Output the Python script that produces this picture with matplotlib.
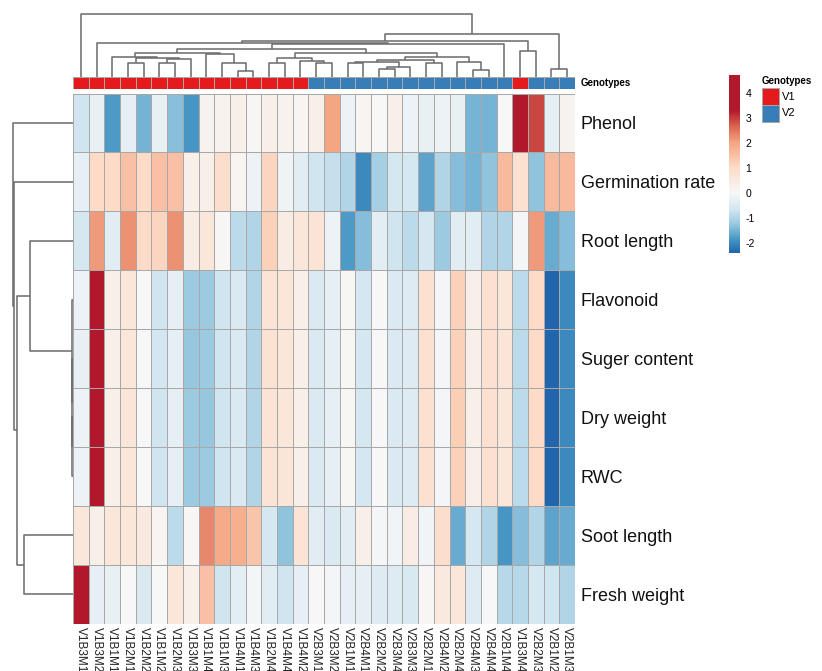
import numpy as np
import matplotlib
matplotlib.use('Agg')
import matplotlib.pyplot as plt
from matplotlib.colors import LinearSegmentedColormap, ListedColormap, Normalize
from matplotlib.patches import Rectangle

plt.rcParams['font.family'] = ['Liberation Sans', 'DejaVu Sans']
plt.rcParams['axes.unicode_minus'] = False

# column order as shown (after clustering)
samples = ['V1B3M1', 'V1B3M2', 'V1B1M1', 'V1B2M1', 'V1B2M2', 'V1B1M2', 'V1B2M3', 'V1B3M3',
           'V1B1M4', 'V1B1M3', 'V1B4M1', 'V1B4M3', 'V1B2M4', 'V1B4M4', 'V1B4M2', 'V2B3M1',
           'V2B3M2', 'V2B1M1', 'V2B4M1', 'V2B2M2', 'V2B3M4', 'V2B3M3', 'V2B2M1', 'V2B4M2',
           'V2B2M4', 'V2B4M3', 'V2B4M4', 'V2B1M4', 'V1B3M4', 'V2B2M3', 'V2B1M2', 'V2B1M3']
genotypes = [s[:2] for s in samples]
traits = ['Phenol', 'Germination rate', 'Root length', 'Flavonoid', 'Suger content',
          'Dry weight', 'RWC', 'Soot length', 'Fresh weight']

phenol = [-0.7, -0.25, -1.8, -0.3, -1.5, -0.25, -1.35, -1.85, 0.2, 0.2, 0.3, 0.05, 0.3, 0.2, 0.1, 0.3,
          2.0, -0.2, 0.1, 0.0, 0.3, -0.2, -0.25, -0.2, -0.25, -1.5, -1.5, 0.0, 4.7, 2.9, -0.3, 0.2]
germination = [-0.3, 1.0, 1.0, 1.5, 1.0, 1.5, 1.5, 0.3, 0.3, 0.9, 0.1, -0.2, 1.1, -0.15, -0.4, -0.7,
               -0.8, -1.0, -2.0, -1.1, -0.6, -0.6, -1.7, -1.0, -1.4, -1.5, -1.3, 1.6, 0.8, -1.3, 1.6, 1.6]
root_length = [-0.6, 2.1, -0.4, 2.2, 1.0, 1.1, 2.2, 0.4, 0.6, 0.05, -0.9, -1.0, 1.2, 0.4, 0.6, 0.7,
               -0.2, -1.8, -1.4, -0.35, -0.7, -0.9, -0.6, -1.2, -0.4, -0.4, -1.0, -1.0, -0.05, 2.1, -1.6, -1.4]
flavonoid = [-0.2, 4.5, 0.3, 0.6, 0.0, -0.7, -0.3, -1.2, -1.2, -0.7, -0.5, -1.0, 0.7, 0.6, 0.3, -0.5,
             -0.3, 0.05, -0.6, 0.0, -0.5, -0.45, 0.8, -0.05, 1.2, 0.3, 0.8, 0.6, -0.9, 1.0, -2.4, -2.0]
suger = [-0.25, 4.5, 0.3, 0.6, 0.0, -0.65, -0.3, -1.25, -1.2, -0.7, -0.5, -1.0, 0.75, 0.6, 0.3, -0.5,
         -0.3, 0.05, -0.6, 0.0, -0.5, -0.45, 0.8, -0.05, 1.2, 0.3, 0.8, 0.65, -0.9, 1.0, -2.4, -2.0]
dry_weight = [-0.2, 4.45, 0.3, 0.65, 0.0, -0.7, -0.3, -1.2, -1.25, -0.7, -0.5, -1.0, 0.7, 0.6, 0.3, -0.5,
              -0.3, 0.05, -0.6, 0.0, -0.5, -0.45, 0.8, -0.05, 1.25, 0.3, 0.8, 0.6, -0.9, 1.0, -2.4, -2.0]
rwc = [-0.2, 4.5, 0.3, 0.6, 0.0, -0.7, -0.3, -1.2, -1.2, -0.7, -0.5, -1.0, 0.7, 0.65, 0.3, -0.5,
       -0.3, 0.05, -0.6, 0.0, -0.5, -0.45, 0.8, -0.05, 1.2, 0.3, 0.8, 0.6, -0.9, 1.0, -2.4, -2.0]
soot_length = [0.6, 0.3, 0.6, 0.6, 0.5, 0.1, -0.9, 0.05, 2.3, 1.9, 1.8, 1.4, -0.6, -1.3, 0.7, -0.4,
               -0.5, -0.4, 0.3, -0.05, -0.1, 0.4, -0.1, 0.9, -1.6, -0.6, -1.0, -1.85, -1.4, -1.0, -1.7, -1.6]
fresh_weight = [4.6, -0.3, -0.25, 0.0, -0.5, 0.0, 0.6, 0.3, 1.5, -0.7, -0.35, -0.05, -0.4, -0.7, -0.3, 0.0,
                -0.05, -0.3, -0.3, -0.45, -0.45, -0.55, 0.05, 0.5, 0.6, -0.45, 0.0, -0.95, -0.95, -0.6, -0.7, -1.0]

# dendrograms: (left, right, merge height), leaves are column / row indices
c34 = (3, 4, 14.3)
c56 = (5, 6, 14.3)
c567 = (c56, 7, 18.3)
c3_7 = (c34, c567, 19.3)
c2_7 = (2, c3_7, 20.7)
c10_11 = (10, 11, 6.7)
c9_11 = (9, c10_11, 14)
c8_11 = (8, c9_11, 24)
c2_11 = (c2_7, c8_11, 25)
c12_13 = (12, 13, 14)
c15_16 = (15, 16, 14)
c14_16 = (14, c15_16, 16.3)
c12_16 = (c12_13, c14_16, 20)
c17_18 = (17, 18, 14)
c19_20 = (19, 20, 8.3)
c19_21 = (c19_20, 21, 10)
c17_21 = (c17_18, c19_21, 15.7)
c22_23 = (22, 23, 14)
c17_23 = (c17_21, c22_23, 17)
c25_26 = (25, 26, 7.3)
c24_26 = (24, c25_26, 15)
c17_26 = (c17_23, c24_26, 20.7)
c12_26 = (c12_16, c17_26, 24.3)
c2_26 = (c2_11, c12_26, 28.3)
c2_27 = (c2_26, 27, 33.3)
c1_27 = (1, c2_27, 34.3)
c28_29 = (28, 29, 26.7)
c1_29 = (c1_27, c28_29, 36.7)
c30_31 = (30, 31, 8.3)
c1_31 = (c1_29, c30_31, 44)
col_tree = (0, c1_31, 64)

r56 = (5, 6, 2)
r4_6 = (4, r56, 3)
r3_6 = (3, r4_6, 4)
r2_6 = (2, r3_6, 132)
r78 = (7, 8, 148)
r2_8 = (r2_6, r78, 172)
r1_8 = (1, r2_8, 180)
row_tree = (0, r1_8, 183)

W, H = 822, 671


def box(x0, y0, x1, y1):
    return [x0 / W, 1 - y1 / H, (x1 - x0) / W, (y1 - y0) / H]


def draw_tree(ax, node, horizontal=False):
    if isinstance(node, int):
        return node + 0.5, 0
    lp, lh = draw_tree(ax, node[0], horizontal)
    rp, rh = draw_tree(ax, node[1], horizontal)
    h = node[2]
    xs, ys = [lp, lp, rp, rp], [lh, h, h, rh]
    if horizontal:
        xs, ys = ys, xs
    ax.plot(xs, ys, color='#6a6a6a', lw=1.1, clip_on=False, solid_capstyle='butt')
    return (lp + rp) / 2, h


nodes = [(-2.4, '#2166AC'), (-1.9, '#4393C3'), (-1.3, '#92C5DE'), (-0.7, '#D1E5F0'),
         (0.0, '#F7F7F7'), (1.0, '#FDDBC7'), (2.0, '#F4A582'), (2.7, '#D6604D'),
         (3.3, '#B2182B'), (4.7, '#B2182B')]
vmin, vmax = -2.4, 4.7
cmap = LinearSegmentedColormap.from_list(
    'hm', [((v - vmin) / (vmax - vmin), c) for v, c in nodes])
norm = Normalize(vmin, vmax)

data = np.array([phenol, germination, root_length, flavonoid, suger,
                 dry_weight, rwc, soot_length, fresh_weight])

fig = plt.figure(figsize=(8.22, 6.71), dpi=100)

ax = fig.add_axes(box(73, 93.5, 575, 623.5))
mesh = ax.pcolormesh(data, cmap=cmap, norm=norm, edgecolors='#a8a8a8', linewidth=0.7)
ax.set_xlim(0, len(samples))
ax.set_ylim(len(traits), 0)
ax.set_xticks(np.arange(len(samples)) + 0.5)
ax.set_xticklabels(samples, rotation=270, fontsize=8.5, color='#222222')
ax.set_yticks(np.arange(len(traits)) + 0.5)
ax.set_yticklabels(traits, fontsize=13, color='#111111')
ax.yaxis.tick_right()
ax.tick_params(axis='y', length=0, pad=4)
ax.tick_params(axis='x', length=0, pad=2.5)
for s in ax.spines.values():
    s.set_visible(False)

# annotation bar
ax_ann = fig.add_axes(box(73, 77.3, 575, 89))
codes = np.array([[0 if g == 'V1' else 1 for g in genotypes]])
ax_ann.pcolormesh(codes, cmap=ListedColormap(['#E41A1C', '#377EB8']), vmin=0, vmax=1,
                  edgecolors='#a8a8a8', linewidth=0.7)
ax_ann.set_xlim(0, len(samples))
ax_ann.axis('off')
fig.text(581 / W, 1 - 83.5 / H, 'Genotypes', fontsize=7, fontweight='bold', va='center')

# column dendrogram
ax_cd = fig.add_axes(box(73, 14, 575, 77.3))
draw_tree(ax_cd, col_tree)
ax_cd.set_xlim(0, len(samples))
ax_cd.set_ylim(0, col_tree[2])
ax_cd.axis('off')

# row dendrogram
ax_rd = fig.add_axes(box(13, 93.5, 73, 623.5))
draw_tree(ax_rd, row_tree, horizontal=True)
ax_rd.set_xlim(row_tree[2], 0)
ax_rd.set_ylim(len(traits), 0)
ax_rd.axis('off')

# colour bar
cax = fig.add_axes(box(729, 75, 740, 253))
cb = fig.colorbar(mesh, cax=cax)
cb.set_ticks([-2, -1, 0, 1, 2, 3, 4])
cb.outline.set_visible(False)
cax.tick_params(length=0, labelsize=7.5, pad=4)

# genotype legend
fig.text(762 / W, 1 - 80.5 / H, 'Genotypes', fontsize=7, fontweight='bold', va='center')
for i, (lab, col) in enumerate(zip(['V1', 'V2'], ['#E41A1C', '#377EB8'])):
    y0 = 88 + i * 17
    fig.add_artist(Rectangle((762 / W, 1 - (y0 + 17) / H), 17 / W, 17 / H,
                             transform=fig.transFigure, facecolor=col,
                             edgecolor='#a8a8a8', lw=0.7))
    fig.text(782 / W, 1 - (y0 + 8.5) / H, lab, fontsize=8, va='center')

fig.savefig('out.png', dpi=100)
